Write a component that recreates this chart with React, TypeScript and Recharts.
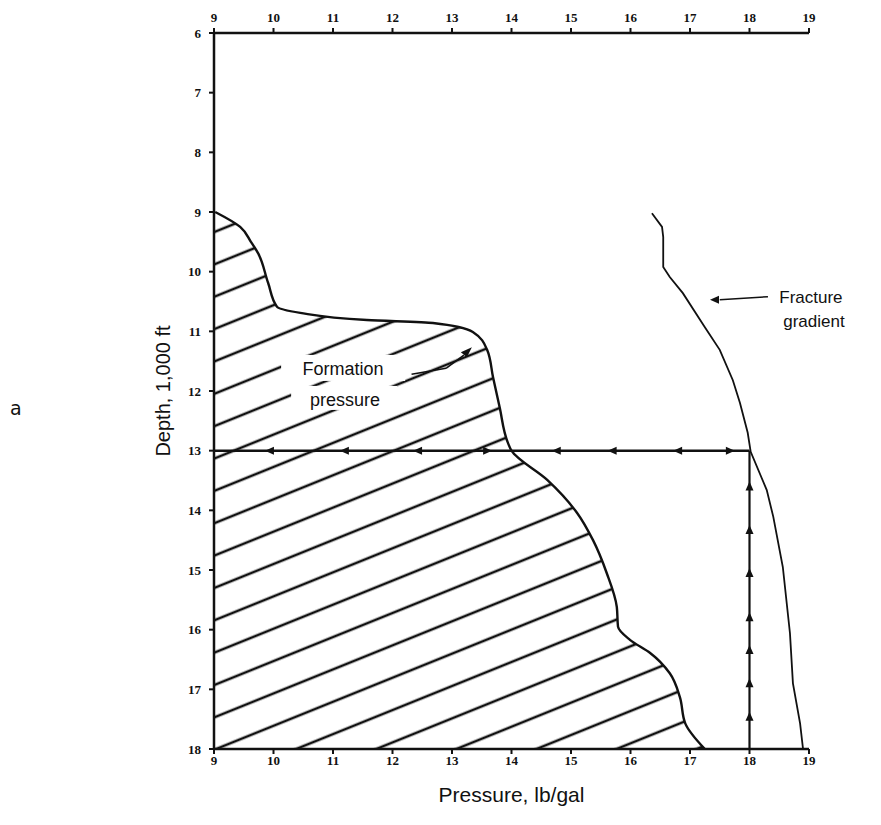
import React from 'react';
import { ComposedChart, Area, Line, XAxis, YAxis, ReferenceLine, ReferenceDot } from 'recharts';

const pressureTicks = [9, 10, 11, 12, 13, 14, 15, 16, 17, 18, 19];
const depthTicks = [6, 7, 8, 9, 10, 11, 12, 13, 14, 15, 16, 17, 18];

// Formation pressure curve (depth in 1,000 ft -> lb/gal)
const formationDepth = [9.0, 9.25, 9.5, 9.69, 10.19, 10.59, 10.69, 10.81, 10.86, 11.01, 11.31, 11.77, 12.27, 12.87, 13.0, 13.49, 14.04, 14.5, 15.05, 15.62, 15.95, 16.17, 16.39, 16.73, 17.13, 17.57, 18.0];
const formationPressure = [9.02, 9.44, 9.62, 9.74, 9.91, 10.06, 10.45, 11.57, 12.68, 13.35, 13.59, 13.69, 13.8, 13.94, 14.0, 14.6, 15.1, 15.37, 15.6, 15.77, 15.79, 15.99, 16.33, 16.66, 16.83, 16.92, 17.25];

// Fracture gradient curve
const fractureDepth = [9.02, 9.25, 9.42, 9.92, 10.09, 10.36, 10.93, 11.31, 11.82, 12.2, 12.7, 13.02, 13.66, 14.11, 14.95, 16.06, 16.9, 17.57, 18.0];
const fracturePressure = [16.36, 16.53, 16.55, 16.55, 16.66, 16.88, 17.25, 17.5, 17.72, 17.84, 17.97, 18.02, 18.29, 18.4, 18.56, 18.68, 18.73, 18.85, 18.9];

// Design lines
const casingDepth = 13;
const casingStartPressure = 9;
const casingPressure = 18;
const bottomDepth = 18;

// Arrowheads along design lines
const hArrowPressure = [9.94, 11.2, 12.43, 13.59, 14.76, 15.7, 16.8, 17.67];
const hArrowDir = ['l', 'l', 'l', 'r', 'l', 'l', 'l', 'r'];
const vArrowDepth = [13.6, 14.33, 15.05, 15.79, 16.34, 16.9, 17.46];

const INK = '#111';

function buildRows() {
  const map = new Map<number, any>();
  const get = (d: number) => {
    if (!map.has(d)) map.set(d, { depth: d });
    return map.get(d);
  };
  formationDepth.forEach((d, i) => { get(d).formation = formationPressure[i]; });
  fractureDepth.forEach((d, i) => { get(d).fracture = fracturePressure[i]; });
  return Array.from(map.values()).sort((a, b) => a.depth - b.depth);
}

const rows = buildRows();

const arrowShape = (dir: string) => (props: any) => {
  const { cx, cy } = props;
  let d = '';
  if (dir === 'l') d = `M${cx - 5},${cy} L${cx + 4},${cy - 4} L${cx + 4},${cy + 4} Z`;
  else if (dir === 'r') d = `M${cx + 5},${cy} L${cx - 4},${cy - 4} L${cx - 4},${cy + 4} Z`;
  else if (dir === 'u') d = `M${cx},${cy - 5} L${cx - 4},${cy + 4} L${cx + 4},${cy + 4} Z`;
  return <path d={d} fill={INK} />;
};

const formationLabel = (props: any) => {
  const { cx, cy } = props;
  return (
    <g>
      <rect x={cx - 62} y={cy - 14} width={124} height={26} fill="#fff" />
      <rect x={cx - 52} y={cy + 17} width={106} height={24} fill="#fff" />
      <text x={cx} y={cy + 6} textAnchor="middle" fontFamily="Liberation Sans, Arial, sans-serif" fontSize={18} fill={INK}>Formation</text>
      <text x={cx + 2} y={cy + 37} textAnchor="middle" fontFamily="Liberation Sans, Arial, sans-serif" fontSize={18} fill={INK}>pressure</text>
    </g>
  );
};

const fractureLabel = (props: any) => {
  const { cx, cy } = props;
  return (
    <g>
      <text x={cx} y={cy} textAnchor="start" fontFamily="Liberation Sans, Arial, sans-serif" fontSize={17} fill={INK}>Fracture</text>
      <text x={cx + 4} y={cy + 24} textAnchor="start" fontFamily="Liberation Sans, Arial, sans-serif" fontSize={17} fill={INK}>gradient</text>
    </g>
  );
};

const tickStyle = { fontFamily: 'Liberation Serif, serif', fontSize: 13, fontWeight: 700, fill: INK };

export default function App() {
  return (
    <div style={{ position: 'relative', width: 865, height: 810, background: '#fff' }}>
      <span style={{ position: 'absolute', left: 2, top: 389, fontFamily: 'DejaVu Sans, sans-serif', fontSize: 19, color: INK }}>a</span>
      <ComposedChart
        width={865}
        height={810}
        data={rows}
        layout="vertical"
        margin={{ top: 0, right: 64, bottom: 39, left: 104 }}
      >
        <defs>
          <pattern id="hatch" patternUnits="userSpaceOnUse" width={30} height={30} patternTransform="rotate(-22)">
            <rect x={0} y={0} width={30} height={30} fill="#fff" />
            <line x1={0} y1={15} x2={30} y2={15} stroke={INK} strokeWidth={2.6} />
          </pattern>
        </defs>
        <XAxis
          xAxisId="bottom"
          type="number"
          orientation="bottom"
          domain={[9, 19]}
          ticks={pressureTicks}
          allowDataOverflow
          height={30}
          axisLine={{ stroke: INK, strokeWidth: 2.5 }}
          tickLine={{ stroke: INK, strokeWidth: 2 }}
          tickSize={5}
          tick={tickStyle}
          label={{ value: 'Pressure, lb/gal', position: 'bottom', offset: 8, style: { fontFamily: 'Liberation Sans, Arial, sans-serif', fontSize: 21, fill: INK } }}
        />
        <XAxis
          xAxisId="top"
          type="number"
          orientation="top"
          domain={[9, 19]}
          ticks={pressureTicks}
          allowDataOverflow
          height={25}
          axisLine={{ stroke: INK, strokeWidth: 2.5 }}
          tickLine={{ stroke: INK, strokeWidth: 2 }}
          tickSize={5}
          tickMargin={6}
          tick={tickStyle}
        />
        <YAxis
          type="number"
          dataKey="depth"
          domain={[6, 18]}
          ticks={depthTicks}
          allowDataOverflow
          width={102}
          axisLine={{ stroke: INK, strokeWidth: 2.5 }}
          tickLine={{ stroke: INK, strokeWidth: 2 }}
          tickSize={5}
          tickMargin={8}
          tick={tickStyle}
          label={{ value: 'Depth, 1,000 ft', angle: -90, position: 'center', style: { fontFamily: 'Liberation Sans, Arial, sans-serif', fontSize: 20, fill: INK } }}
        />
        <Area
          xAxisId="bottom"
          dataKey="formation"
          type="monotone"
          baseValue="dataMin"
          connectNulls
          stroke={INK}
          strokeWidth={2.4}
          fill="url(#hatch)"
          fillOpacity={1}
          isAnimationActive={false}
          dot={false}
          activeDot={false}
        />
        <Line
          xAxisId="bottom"
          dataKey="fracture"
          type="linear"
          connectNulls
          stroke={INK}
          strokeWidth={1.8}
          dot={false}
          activeDot={false}
          isAnimationActive={false}
        />
        <ReferenceLine
          xAxisId="bottom"
          segment={[{ x: casingStartPressure, y: casingDepth }, { x: casingPressure, y: casingDepth }]}
          stroke={INK}
          strokeWidth={2.5}
        />
        <ReferenceLine
          xAxisId="bottom"
          segment={[{ x: casingPressure, y: casingDepth }, { x: casingPressure, y: bottomDepth }]}
          stroke={INK}
          strokeWidth={2.2}
        />
        {hArrowPressure.map((p, i) => (
          <ReferenceDot key={`h${i}`} xAxisId="bottom" x={p} y={casingDepth} r={4} shape={arrowShape(hArrowDir[i])} />
        ))}
        {vArrowDepth.map((d, i) => (
          <ReferenceDot key={`v${i}`} xAxisId="bottom" x={casingPressure} y={d} r={4} shape={arrowShape('u')} />
        ))}
        <ReferenceDot xAxisId="bottom" x={11.17} y={11.63} r={1} shape={formationLabel} />
        <ReferenceLine xAxisId="bottom" segment={[{ x: 12.32, y: 11.72 }, { x: 12.9, y: 11.62 }]} stroke={INK} strokeWidth={1.5} />
        <ReferenceLine xAxisId="bottom" segment={[{ x: 12.9, y: 11.62 }, { x: 13.2, y: 11.4 }]} stroke={INK} strokeWidth={1.5} />
        <ReferenceDot xAxisId="bottom" x={13.25} y={11.35} r={4} shape={(p: any) => (
          <path d={`M${p.cx + 5},${p.cy - 5} L${p.cx - 6},${p.cy} L${p.cx},${p.cy + 5} Z`} fill={INK} />
        )} />
        <ReferenceDot xAxisId="bottom" x={18.5} y={10.52} r={1} shape={fractureLabel} />
        <ReferenceLine xAxisId="bottom" segment={[{ x: 18.31, y: 10.42 }, { x: 17.5, y: 10.47 }]} stroke={INK} strokeWidth={1.5} />
        <ReferenceDot xAxisId="bottom" x={17.42} y={10.47} r={4} shape={arrowShape('l')} />
      </ComposedChart>
    </div>
  );
}
